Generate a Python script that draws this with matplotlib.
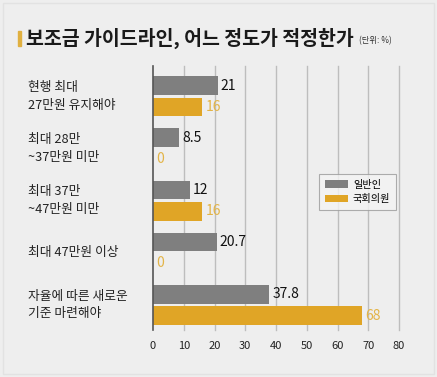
import matplotlib
matplotlib.use("Agg")
import matplotlib.pyplot as plt
from matplotlib.patches import Rectangle
import numpy as np

plt.rcParams['font.family'] = ['Noto Sans CJK KR', 'DejaVu Sans']

categories = ["현행 최대\n27만원 유지해야", "최대 28만\n~37만원 미만", "최대 37만\n~47만원 미만",
              "최대 47만원 이상", "자율에 따른 새로운\n기준 마련해야"]
public = [21, 8.5, 12, 20.7, 37.8]
lawmakers = [16, 0, 16, 0, 68]
public_labels = ["21", "8.5", "12", "20.7", "37.8"]
lawmaker_labels = ["16", "0", "16", "0", "68"]
series_names = ["일반인", "국회의원"]
xticks = [0, 10, 20, 30, 40, 50, 60, 70, 80]

W, H = 437, 377
fig = plt.figure(figsize=(W/100, H/100), dpi=100)
fig.patch.set_facecolor('#eeeeee')
fig.patches.append(Rectangle((3/W, 3/H), 1-6/W, 1-6/H, transform=fig.transFigure,
                             fill=False, edgecolor='#e2e2e2', lw=1))

left, right = 153/W, 399/W
top, bottom = 1-66/H, 1-330/H
ax = fig.add_axes([left, bottom, right-left, top-bottom])
ax.set_facecolor('none')

gray = '#7f7f7f'
gold = '#e0a526'
y = np.arange(len(categories))
h = 0.36
ax.barh(y - 0.205, public, height=h, color=gray, zorder=3, label=series_names[0])
ax.barh(y + 0.205, lawmakers, height=h, color=gold, zorder=3, label=series_names[1])

for i in range(len(categories)):
    ax.text(public[i] + 1.0, y[i] - 0.205, public_labels[i], va='center', ha='left',
            fontsize=10, color='#111111', zorder=4)
    ax.text(lawmakers[i] + 1.0, y[i] + 0.205, lawmaker_labels[i], va='center', ha='left',
            fontsize=10, color='#e3b447', zorder=4)

ax.set_xlim(0, 80)
ax.set_ylim(4.48, -0.58)
ax.set_xticks(xticks)
ax.set_xticklabels([str(t) for t in xticks], fontsize=8, color='#222222')
ax.tick_params(axis='x', length=0, pad=8)
ax.set_yticks([])
for t in xticks[1:]:
    ax.axvline(t, color='#bdbdbd', lw=1, zorder=1, clip_on=False)
for s in ['top', 'right', 'bottom']:
    ax.spines[s].set_visible(False)
ax.spines['left'].set_color('#555555')
ax.spines['left'].set_linewidth(1.2)
ax.spines['left'].set_zorder(5)

for i, c in enumerate(categories):
    ax.text(-125/246*80, y[i], c, transform=ax.transData, ha='left', va='center',
            fontsize=9.2, color='#222222', linespacing=1.45)

leg = ax.legend(loc='upper left', bbox_to_anchor=((319-153)/246, 1-(174-66)/264),
                borderaxespad=0, fontsize=7.3, frameon=True, fancybox=False,
                handlelength=2.3, handleheight=0.8,
                borderpad=0.55, labelspacing=0.45, handletextpad=0.5)
leg.get_frame().set_facecolor('#f4f4f4')
leg.get_frame().set_edgecolor('#9a9a9a')
leg.get_frame().set_linewidth(0.8)

fig.patches.append(Rectangle((18/W, 1-46/H), 3/W, 15/H, transform=fig.transFigure,
                             color='#e0b040'))
fig.text(26/W, 1-38.5/H, "보조금 가이드라인, 어느 정도가 적정한가", fontsize=14,
         fontweight='black', color='#1a1a1a', va='center', ha='left')
fig.text(359/W, 1-41/H, "(단위: %)", fontsize=6, color='#333333', va='center', ha='left')

fig.savefig('out.png', dpi=100, facecolor=fig.get_facecolor())
